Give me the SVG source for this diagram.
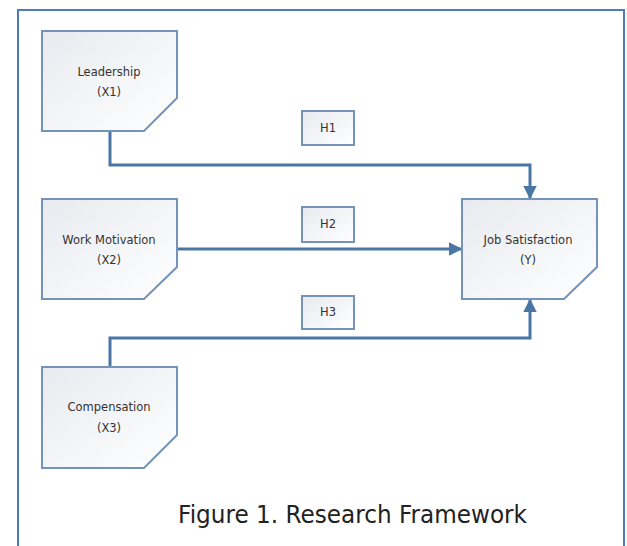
<svg xmlns="http://www.w3.org/2000/svg" width="627" height="546" viewBox="0 0 627 546">
<style>
.node{fill:url(#g);stroke:#7593b8;stroke-width:2}
.hb{fill:url(#g);stroke:#7593b8;stroke-width:2}
.t{font-family:"DejaVu Sans",sans-serif;font-size:11.5px;fill:#333;text-anchor:middle}
.c{fill:none;stroke:#4a76a6;stroke-width:3}
</style>
<defs>
<linearGradient id="g" x1="0" y1="0" x2="1" y2="1">
<stop offset="0" stop-color="#e8eaef"/>
<stop offset="1" stop-color="#ffffff"/>
</linearGradient>
<marker id="a" viewBox="0 0 10 10" refX="9" refY="5" markerWidth="4.6" markerHeight="4.6" orient="auto" markerUnits="strokeWidth">
<path d="M0,0 L10,5 L0,10 z" fill="#4a76a6"/>
</marker>
</defs>
<rect x="18" y="10" width="606" height="550" fill="#fff" stroke="#4e7cba" stroke-width="2"/>
<g id="connectors">
<path class="c" d="M110,132 V165 H530 V198" marker-end="url(#a)"/>
<path class="c" d="M178,249 H461" marker-end="url(#a)"/>
<path class="c" d="M110,366 V338 H530 V300" marker-end="url(#a)"/>
</g>
<g id="leadership">
<polygon class="node" points="42,31 177,31 177,98 144,131 42,131"/>
<text class="t" x="109" y="76">Leadership</text>
<text class="t" x="109" y="96">(X1)</text>
</g>
<g id="work-motivation">
<polygon class="node" points="42,199 177,199 177,267 144,299 42,299"/>
<text class="t" x="109" y="244">Work Motivation</text>
<text class="t" x="109" y="264">(X2)</text>
</g>
<g id="compensation">
<polygon class="node" points="42,367 177,367 177,435 144,468 42,468"/>
<text class="t" x="109" y="411">Compensation</text>
<text class="t" x="109" y="432">(X3)</text>
</g>
<g id="job-satisfaction">
<polygon class="node" points="462,199 597,199 597,267 564,299 462,299"/>
<text class="t" x="528" y="244">Job Satisfaction</text>
<text class="t" x="528" y="264">(Y)</text>
</g>
<g id="h1">
<rect class="hb" x="302" y="111" width="52" height="34"/>
<text class="t" x="328" y="132">H1</text>
</g>
<g id="h2">
<rect class="hb" x="302" y="207" width="52" height="35"/>
<text class="t" x="328" y="228">H2</text>
</g>
<g id="h3">
<rect class="hb" x="302" y="296" width="52" height="33"/>
<text class="t" x="328" y="316">H3</text>
</g>
<text x="178" y="523" font-family="DejaVu Sans, sans-serif" font-size="24" fill="#222" textLength="349" lengthAdjust="spacingAndGlyphs">Figure 1. Research Framework</text>
</svg>
